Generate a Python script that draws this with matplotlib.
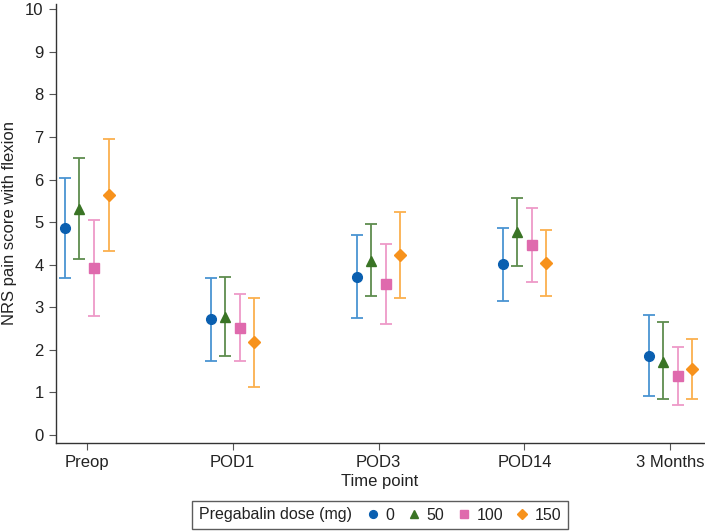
import matplotlib
matplotlib.use("Agg")
import matplotlib.pyplot as plt
from matplotlib.lines import Line2D
from matplotlib.offsetbox import HPacker
import numpy as np

plt.rcParams['font.family'] = ['Liberation Sans', 'DejaVu Sans']

timepoints = ["Preop", "POD1", "POD3", "POD14", "3 Months"]
doses = ["0", "50", "100", "150"]

mean_0 = [4.87, 2.72, 3.72, 4.02, 1.86]
low_0 = [3.68, 1.74, 2.76, 3.15, 0.91]
high_0 = [6.03, 3.70, 4.69, 4.87, 2.83]

mean_50 = [5.30, 2.78, 4.09, 4.76, 1.72]
low_50 = [4.14, 1.86, 3.26, 3.96, 0.84]
high_50 = [6.50, 3.72, 4.96, 5.56, 2.65]

mean_100 = [3.92, 2.51, 3.55, 4.46, 1.39]
low_100 = [2.79, 1.73, 2.61, 3.59, 0.71]
high_100 = [5.05, 3.31, 4.49, 5.33, 2.07]

mean_150 = [5.64, 2.18, 4.23, 4.03, 1.54]
low_150 = [4.32, 1.13, 3.21, 3.27, 0.85]
high_150 = [6.95, 3.23, 5.25, 4.82, 2.26]

series = [
    (mean_0, low_0, high_0, "o", 7, "#0a5fb0", "#4a94d2"),
    (mean_50, low_50, high_50, "^", 7, "#3a7425", "#5e8c4e"),
    (mean_100, low_100, high_100, "s", 6.5, "#df6aad", "#ee9ac8"),
    (mean_150, low_150, high_150, "D", 6.5, "#f7921c", "#fbb04e"),
]
offsets = [-0.15, -0.05, 0.05, 0.15]

fig = plt.figure(figsize=(7.05, 5.32), dpi=100)
ax = fig.add_axes([56/705, 89.3/532, (704-56)/705, (442.7-4.2)/532])

x = np.arange(len(timepoints))
handles = []
for (m, lo, hi, mk, ms, mc, ec), off in zip(series, offsets):
    m = np.array(m); lo = np.array(lo); hi = np.array(hi)
    ax.errorbar(x + off, m, yerr=[m - lo, hi - m], fmt="none", ecolor=ec,
                elinewidth=1.3, capsize=4, capthick=1.3)
    ax.plot(x + off, m, linestyle="none", marker=mk, markersize=ms,
            color=mc, markeredgecolor=mc)
    handles.append(Line2D([], [], linestyle="none", marker=mk, markersize=ms * 0.8,
                          color=mc, markeredgecolor=mc))

ax.set_xlim(-0.21, 4.23)
ax.set_ylim(-0.18, 10.12)
ax.set_yticks(range(0, 11))
ax.set_xticks(x)
ax.set_xticklabels(timepoints)
ax.tick_params(axis="both", labelsize=12, length=5, width=0.8, color="#555555",
               labelcolor="#222222")
ax.tick_params(axis="y", pad=4)
for s in ["top", "right"]:
    ax.spines[s].set_visible(False)
for s in ["left", "bottom"]:
    ax.spines[s].set_color("#333333")
    ax.spines[s].set_linewidth(1.0)

ax.set_ylabel("NRS pain score with flexion", fontsize=12, color="#222222", labelpad=6)
ax.set_xlabel("Time point", fontsize=12, color="#222222", labelpad=3)

leg = fig.legend(handles, doses, title="Pregabalin dose (mg)", title_fontsize=11.5,
                 ncol=4, loc="center", bbox_to_anchor=(380/705, 1 - 515/532),
                 fontsize=11.5, frameon=True, fancybox=False, edgecolor="#333333",
                 handlelength=0.6, handletextpad=0.5, columnspacing=0.9,
                 borderpad=0.4, borderaxespad=0)
leg.get_frame().set_linewidth(1.0)
for t in leg.get_texts():
    t.set_color("#222222")
leg.get_title().set_color("#222222")
try:
    old = leg._legend_box
    new = HPacker(pad=old.pad, sep=12, align="center",
                  children=[leg._legend_title_box, leg._legend_handle_box])
    new.set_figure(fig)
    new.axes = leg.axes
    leg._legend_box = new
    leg._set_loc(leg._loc)
except Exception:
    pass

fig.savefig("out.png", dpi=100)
